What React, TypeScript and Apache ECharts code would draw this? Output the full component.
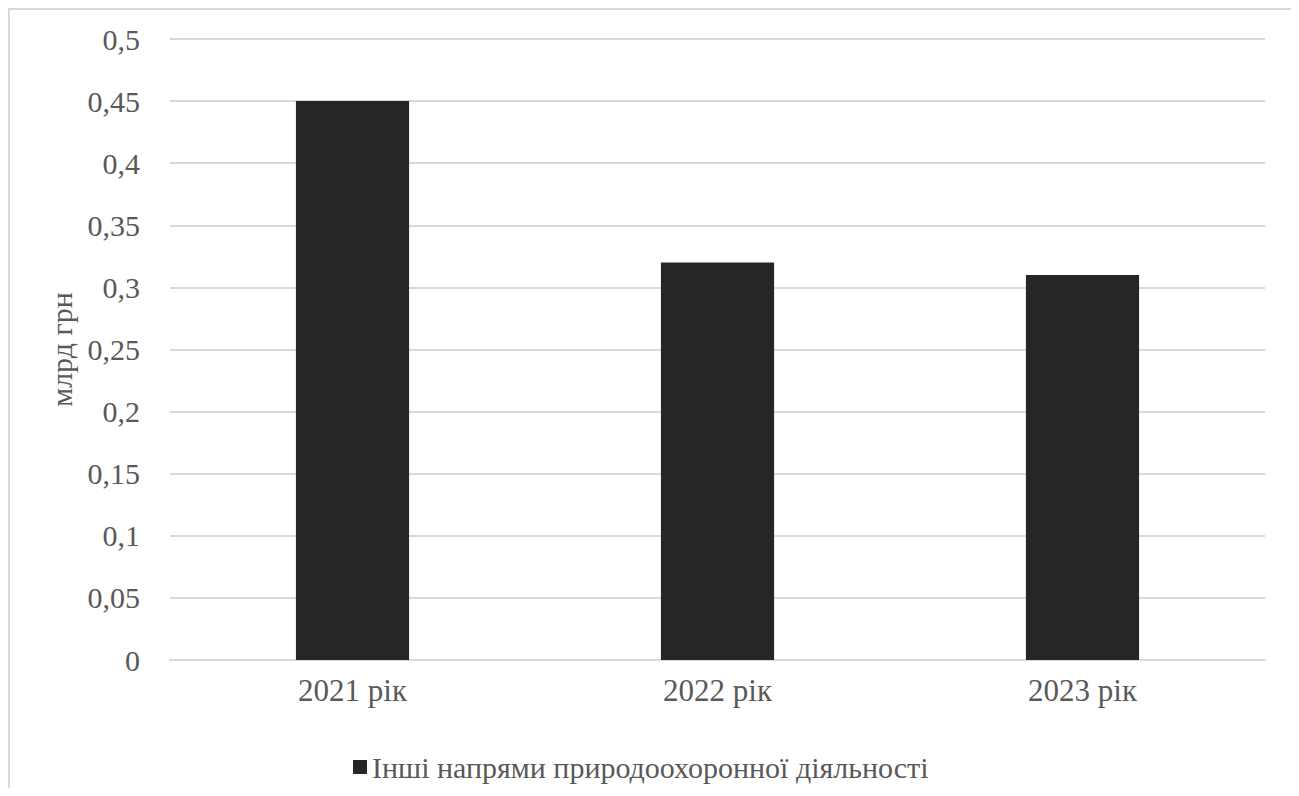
import React, { useEffect, useRef } from "react";
import * as echarts from "echarts";

const categories = ["2021 рік", "2022 рік", "2023 рік"];
const seriesName = "Інші напрями природоохоронної діяльності";
const values = [0.45, 0.32, 0.31];
const axisName = "млрд грн";

const FONT = "Liberation Serif";
const TEXT = "#595959";
const GRID = "#d9d9d9";

const WIDTH = 1285;
const HEIGHT = 780;

export default function App() {
  const ref = useRef<HTMLDivElement>(null);

  useEffect(() => {
    if (!ref.current) return;
    const chart = echarts.init(ref.current, undefined, { renderer: "svg" });
    chart.setOption({
      animation: false,
      graphic: [
        {
          // chart frame: top, left and right edges (the bottom edge lies below the page)
          type: "polyline",
          shape: {
            points: [
              [1, HEIGHT],
              [1, 1],
              [WIDTH - 1, 1],
              [WIDTH - 1, HEIGHT],
            ],
          },
          style: { fill: "none", stroke: GRID, lineWidth: 2 },
          silent: true,
        },
      ],
      grid: { left: 162, right: 28, top: 31, height: 621 },
      legend: {
        top: 739,
        left: 340,
        itemWidth: 14,
        itemHeight: 14,
        icon: "rect",
        textStyle: { fontFamily: FONT, fontSize: 30, color: TEXT },
        data: [seriesName],
      },
      xAxis: {
        type: "category",
        data: categories,
        axisLine: { show: true, lineStyle: { color: GRID, width: 2 } },
        axisTick: { show: false },
        axisLabel: { fontFamily: FONT, fontSize: 31, color: TEXT, margin: 15 },
      },
      yAxis: {
        type: "value",
        min: 0,
        max: 0.5,
        interval: 0.05,
        name: axisName,
        nameLocation: "middle",
        nameRotate: 90,
        nameGap: 89,
        nameTextStyle: { fontFamily: FONT, fontSize: 30, color: TEXT },
        axisLine: { show: false },
        axisTick: { show: false },
        splitLine: { lineStyle: { color: GRID, width: 2 } },
        axisLabel: {
          fontFamily: FONT,
          fontSize: 30,
          color: TEXT,
          margin: 30,
          formatter: (v: number) => parseFloat(v.toFixed(2)).toString().replace(".", ","),
        },
      },
      series: [
        {
          name: seriesName,
          type: "bar",
          data: values,
          barWidth: "31%",
          itemStyle: { color: "#262626" },
        },
      ],
    });
    return () => chart.dispose();
  }, []);

  return <div ref={ref} style={{ width: WIDTH, height: HEIGHT }} />;
}
